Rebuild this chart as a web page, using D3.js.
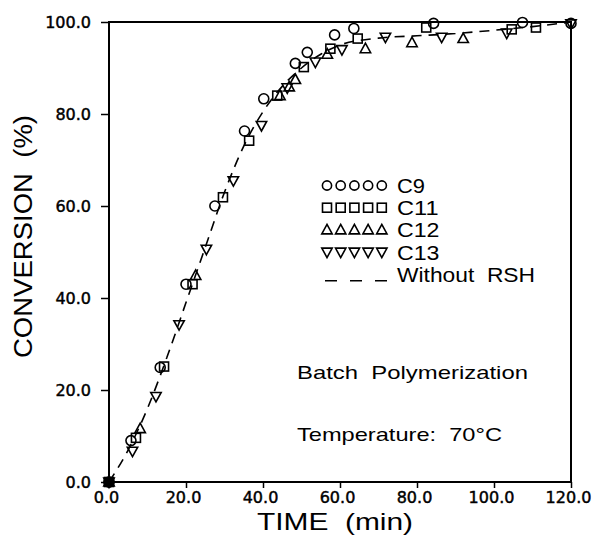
<html>
<head>
<script src="https://d3js.org/d3.v7.min.js"></script>
<style>
    body { margin: 0; background: #fff; }
    svg { font-family: "Liberation Sans", Arial, sans-serif; }
    .frame { fill: none; stroke: #000; stroke-width: 2px; }
    .tick-lbl { font-size: 16px; stroke: #000; stroke-width: 0.45px; }
    .pt { fill: none; stroke: #000; stroke-width: 1.6px; }
    .rsh { fill: none; stroke: #000; stroke-width: 1.6px; stroke-dasharray: 10, 7; }
</style>
</head>
<body>
<svg id="the-chart" width="592" height="535"></svg>
<script>
    var xTicks = [0, 20, 40, 60, 80, 100, 120];
    var yTicks = [0, 20, 40, 60, 80, 100];

    var c9 = [[0, 0], [5.7, 9.0], [13.3, 24.9], [20, 43], [27.5, 60], [35.2, 76.3], [40.2, 83.3],
        [48.4, 91], [51.5, 93.4], [58.6, 97.2], [63.6, 98.6], [84.3, 99.7], [107.4, 99.9], [120, 99.7]];
    var c11 = [[0, 0], [7, 9.6], [14.3, 25.1], [21.7, 43], [29.6, 61.9], [36.4, 74.2], [43.7, 84],
        [50.6, 90.2], [57.5, 94.2], [64.6, 96.4], [82.4, 98.8], [104.6, 98.4], [110.9, 98.8]];
    var c12 = [[0, 0], [8.1, 11.6], [22.5, 44.9], [44.4, 84], [46.8, 85.9], [48.4, 87.5],
        [56.7, 93], [66.6, 94.2], [78.7, 95.5], [92, 96.4]];
    var c13 = [[0, 0], [6.1, 6.7], [12.2, 18.6], [18.2, 34.2], [25.3, 50.6], [32.3, 65.5], [39.6, 77.5],
        [46.3, 85.7], [53.6, 91.3], [60.5, 94], [71.8, 96.7], [86.4, 96.7], [103.3, 97.6], [120, 99.6]];
    var noRsh = [[0, 0], [5, 7], [10, 16], [15, 27], [20, 39], [25, 51], [30, 63], [35, 73], [40, 80.5],
        [45, 86], [50, 90], [55, 93], [60, 95], [70, 96.5], [80, 97], [90, 97.5], [100, 98.2], [110, 99], [120, 100]];

    var legendNames = ['C9', 'C11', 'C12', 'C13', 'Without  RSH'];
    var legendWidths = [28, 41.5, 42.5, 42.5, 138];

    var svg = d3.select('#the-chart');
    var margin = { top: 22, left: 109 };
    var width = 571 - margin.left;
    var height = 482 - margin.top;
    var g = svg.append('g')
        .attr('transform', 'translate(' + margin.left + ',' + margin.top + ')');

    var xscale = d3.scaleLinear().domain([0, 120]).range([0, width]);
    var yscale = d3.scaleLinear().domain([0, 100]).range([height, 0]);

    var xAxis = g.append('g')
        .attr('transform', 'translate(0,' + height + ')')
        .call(d3.axisBottom(xscale).tickValues(xTicks).tickFormat(d3.format('.1f')).tickSize(6).tickPadding(4));
    var yAxis = g.append('g')
        .call(d3.axisLeft(yscale).tickValues(yTicks).tickFormat(d3.format('.1f')).tickSize(8).tickPadding(10));
    [xAxis, yAxis].forEach(function (a) {
        a.select('.domain').remove();
        a.selectAll('line').attr('stroke-width', 1.5);
        a.selectAll('text').attr('class', 'tick-lbl').attr('fill', '#000')
            .style('font-family', '"DejaVu Sans", sans-serif');
    });
    xAxis.selectAll('text').attr('dx', -3);

    g.append('rect').attr('class', 'frame')
        .attr('x', 0).attr('y', 0).attr('width', width).attr('height', height);

    var line = d3.line()
        .x(function (d) { return xscale(d[0]); })
        .y(function (d) { return yscale(d[1]); })
        .curve(d3.curveMonotoneX);
    g.append('path').attr('class', 'rsh').attr('d', line(noRsh));

    var sym = {
        circle: function (s) { return s.append('circle').attr('r', 5); },
        square: function (s) { return s.append('rect').attr('x', -4.5).attr('y', -4.5).attr('width', 9).attr('height', 9); },
        up: function (s) { return s.append('path').attr('d', 'M0,-5.5L5.2,4L-5.2,4Z'); },
        down: function (s) { return s.append('path').attr('d', 'M0,5.5L5.2,-4L-5.2,-4Z'); }
    };
    var series = [[c9, 'circle'], [c11, 'square'], [c12, 'up'], [c13, 'down']];
    series.forEach(function (sr) {
        var pts = g.selectAll(null).data(sr[0]).enter().append('g')
            .attr('transform', function (d) { return 'translate(' + xscale(d[0]) + ',' + yscale(d[1]) + ')'; });
        pts.each(function () { sym[sr[1]](d3.select(this)).attr('class', 'pt'); });
    });
    // filled origin
    g.append('circle').attr('cx', xscale(0)).attr('cy', yscale(0)).attr('r', 5.5).attr('fill', '#000');

    // legend
    var lg = svg.append('g');
    legendNames.forEach(function (name, i) {
        var yy = 193 + i * 22.2;
        if (i < 4) {
            for (var k = 0; k < 5; k++) {
                var gg = lg.append('g').attr('transform', 'translate(' + (327 + k * 13.7) + ',' + (yy - 7.5) + ')');
                var el = sym[series[i][1]](gg).attr('class', 'pt').attr('stroke-width', 1.4);
                if (i === 0) el.attr('r', 4.6);
            }
        } else {
            lg.append('line').attr('x1', 325).attr('x2', 387).attr('y1', yy - 1).attr('y2', yy - 1)
                .attr('stroke', '#000').attr('stroke-width', 1.6).attr('stroke-dasharray', '12, 13');
        }
        lg.append('text').attr('x', 397).attr('y', yy).attr('font-size', 21)
            .attr('textLength', legendWidths[i]).attr('lengthAdjust', 'spacingAndGlyphs')
            .style('white-space', 'pre').text(name);
    });

    svg.append('text').attr('x', 297).attr('y', 379).attr('font-size', 19)
        .attr('textLength', 231).attr('lengthAdjust', 'spacingAndGlyphs')
        .style('white-space', 'pre').text('Batch  Polymerization');
    svg.append('text').attr('x', 297).attr('y', 441).attr('font-size', 19)
        .attr('textLength', 205).attr('lengthAdjust', 'spacingAndGlyphs')
        .style('white-space', 'pre').text('Temperature:  70°C');

    svg.append('text').attr('x', 257).attr('y', 530).attr('font-size', 24)
        .attr('textLength', 156).attr('lengthAdjust', 'spacingAndGlyphs')
        .style('white-space', 'pre').text('TIME  (min)');
    svg.append('text').attr('transform', 'translate(32,358) rotate(-90)').attr('font-size', 26)
        .attr('textLength', 243).attr('lengthAdjust', 'spacingAndGlyphs')
        .style('white-space', 'pre').text('CONVERSION  (%)');
</script>
</body>
</html>
